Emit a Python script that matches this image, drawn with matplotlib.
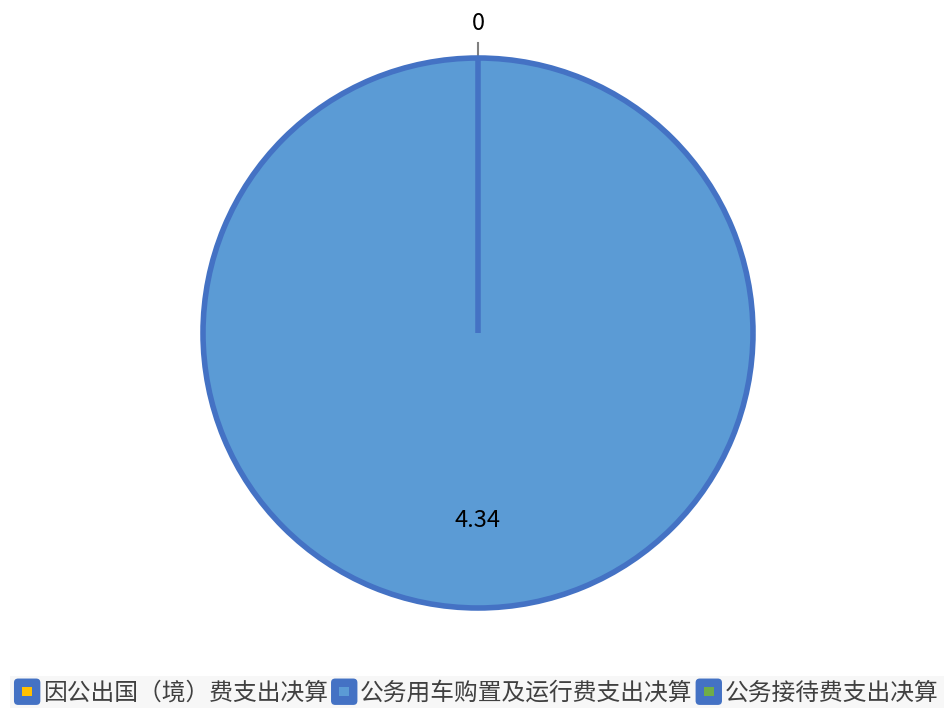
import matplotlib
matplotlib.use("Agg")
import numpy as np
import matplotlib.pyplot as plt
from matplotlib.patches import Patch, FancyBboxPatch, Rectangle
from matplotlib.legend_handler import HandlerPatch

# data
categories = ['因公出国（境）费支出决算', '公务用车购置及运行费支出决算', '公务接待费支出决算']
values = [0, 4.34, 0]
value_labels = ['0', '4.34', '']
slice_colors = ['#FFC000', '#5B9BD5', '#70AD47']
edge_color = '#4472C4'

plt.rcParams['font.family'] = ['Noto Sans CJK SC', 'DejaVu Sans']


class RoundSquare(HandlerPatch):
    # blue rounded square with the slice colour as a small inner square
    def create_artists(self, legend, orig_handle, xdescent, ydescent,
                       width, height, fontsize, trans):
        s = 19.0
        x0 = -xdescent + (width - s) / 2
        y0 = -ydescent + (height - s) / 2
        outer = FancyBboxPatch((x0 + 3, y0 + 3), s - 6, s - 6,
                               boxstyle='round,pad=3,rounding_size=3',
                               facecolor=edge_color, edgecolor='none',
                               transform=trans)
        inner_s = s * 0.36
        inner = Rectangle((x0 + (s - inner_s) / 2, y0 + (s - inner_s) / 2),
                          inner_s, inner_s, facecolor=orig_handle.get_facecolor(),
                          edgecolor='none', transform=trans)
        return [outer, inner]


fig = plt.figure(figsize=(9.45, 7.08), dpi=100)
ax = fig.add_axes([203 / 945, 100 / 708, 550 / 945, 550 / 708])

wedges, _ = ax.pie(values, colors=slice_colors, startangle=90, counterclock=False,
                   wedgeprops=dict(edgecolor=edge_color, linewidth=4))
ax.set_xlim(-1, 1)
ax.set_ylim(-1, 1)
ax.axis('off')

for w, lab in zip(wedges, value_labels):
    if not lab:
        continue
    mid = np.deg2rad((w.theta1 + w.theta2) / 2)
    span = w.theta2 - w.theta1
    if span < 1:
        # outside label with short leader line
        x, y = np.cos(mid), np.sin(mid)
        ax.plot([x * 1.0, x * 1.055], [y * 1.0, y * 1.055], color='#808080',
                lw=1.5, clip_on=False, zorder=0.5)
        ax.text(x * 1.125, y * 1.125, lab, ha='center', va='center',
                fontsize=17, color='black', clip_on=False)
    else:
        ax.text(np.cos(mid) * 0.68, np.sin(mid) * 0.68, lab, ha='center',
                va='center', fontsize=17, color='black')

handles = [Patch(facecolor=c, edgecolor=edge_color) for c in slice_colors]
leg = fig.legend(handles, categories, loc='lower center', bbox_to_anchor=(0.505, -0.004),
                 ncol=3, frameon=True, fancybox=False,
                 handlelength=0.95, handleheight=0.95, handletextpad=0.2,
                 columnspacing=0.2, borderpad=0.25, borderaxespad=0.0,
                 prop=dict(size=17.1, weight='light'),
                 handler_map={Patch: RoundSquare()})
leg.get_frame().set_facecolor('#f5f5f5')
leg.get_frame().set_edgecolor('none')
for t in leg.get_texts():
    t.set_color('#404040')

fig.savefig('out.png', dpi=100)
